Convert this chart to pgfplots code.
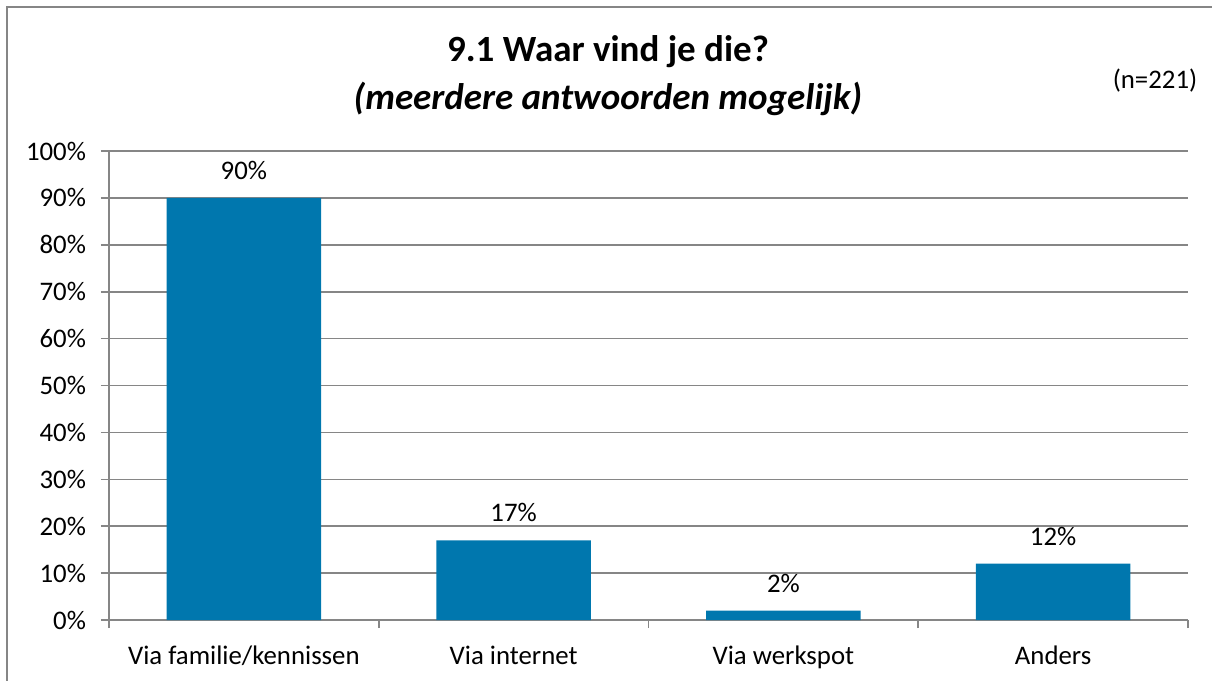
\documentclass[border=0pt]{standalone}
\usepackage{fontspec}
\setmainfont{Carlito}
\usepackage{pgfplots}
\pgfplotsset{compat=1.18}
\definecolor{barblue}{HTML}{0077AE}
\definecolor{gridgray}{HTML}{868686}

\begin{document}
\begin{tikzpicture}
\useasboundingbox (0,0) rectangle (606pt,340.5pt);
\draw[gridgray, line width=0.8pt] (3.5pt,0) -- (3.5pt,337pt) -- (606pt,337pt);
\node[font=\fontsize{18.5}{22}\selectfont\bfseries] at (304pt,314.5pt) {9.1 Waar vind je die?};
\node[font=\fontsize{18.5}{22}\selectfont\bfseries\itshape] at (304pt,291pt) {(meerdere antwoorden mogelijk)};
\node[font=\fontsize{13.4}{15}\selectfont] at (577.5pt,300pt) {(n=221)};
\begin{axis}[
  at={(54.5pt,30.5pt)}, anchor=south west,
  scale only axis, width=539.5pt, height=234.5pt,
  xmin=-0.5, xmax=3.5, ymin=0, ymax=100,
  ytick={0,10,...,100},
  yticklabel={\pgfmathprintnumber{\tick}\%},
  xtick={0,1,2,3},
  xticklabels={Via familie/kennissen, Via internet, Via werkspot, Anders},
  minor xtick={-0.5,0.5,1.5,2.5,3.5},
  major x tick style={draw=none},
  tick align=outside, tick pos=left,
  major tick length=4pt, minor tick length=4pt,
  every tick/.style={gridgray, line width=0.8pt},
  ymajorgrids, grid style={gridgray, line width=0.8pt},
  axis x line*=bottom, axis y line*=left,
  axis line style={gridgray, line width=0.8pt},
  x axis line style={-}, y axis line style={-},
  ticklabel style={font=\fontsize{13.4}{15}\selectfont},
  /pgf/number format/assume math mode=true,
  xticklabel style={yshift=-5.5pt},
  yticklabel style={xshift=-4pt},
  ybar, bar width=0.572,
  nodes near coords={\pgfmathprintnumber{\pgfplotspointmeta}\%},
  every node near coord/.append style={font=\fontsize{13.4}{15}\selectfont, black, yshift=5.5pt},
]
\addplot[fill=barblue, draw=none] coordinates {(0,90) (1,17) (2,2) (3,12)};
\end{axis}
\end{tikzpicture}
\end{document}
